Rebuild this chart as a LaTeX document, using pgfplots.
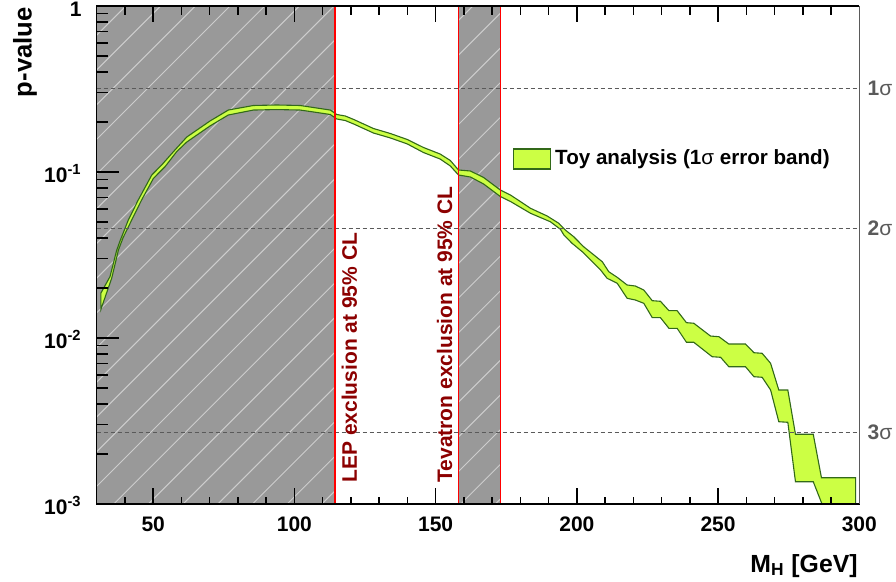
\documentclass[border=0pt]{standalone}
\usepackage{pgfplots}
\pgfplotsset{compat=1.18}
\usepackage{fontspec}
\setmainfont{Liberation Sans}
\definecolor{bandfill}{RGB}{204,255,68}
\definecolor{bandedge}{RGB}{50,105,25}
\definecolor{hatchgray}{RGB}{153,153,153}
\definecolor{hatchline}{RGB}{205,205,205}
\definecolor{exclred}{RGB}{140,0,0}
\definecolor{sigmagray}{RGB}{90,90,90}
\begin{document}
\begin{tikzpicture}
\path[use as bounding box] (0,0) rectangle (448pt,291pt);
\begin{axis}[
  name=ax,
  at={(48.35pt,39pt)}, anchor=south west,
  scale only axis, width=381.3pt, height=249pt,
  xmin=30, xmax=300, ymin=1e-3, ymax=1,
  ymode=log,
  clip=false,
  unbounded coords=jump,
  xtick={50,100,150,200,250,300},
  ytick={0.001,0.01,0.1,1},
  yticklabels={10\textsuperscript{-3},10\textsuperscript{-2},10\textsuperscript{-1},1},
  tick style={draw=none},
  ticklabel style={font=\bfseries\fontsize{10.5}{12}\selectfont},
  /pgf/number format/assume math mode=true,
  xticklabel style={yshift=-3pt},
  yticklabel style={anchor=base east, xshift=-4pt, yshift=-5.2pt},
  legend style={draw=none, fill=none, at={(rel axis cs:0.5455,0.6928)}, anchor=west,
    inner sep=0pt, font=\bfseries\fontsize{10.3}{12}\selectfont},
  legend cell align=left,
  legend image code/.code={\draw[#1] (0pt,-5pt) rectangle (18.5pt,5pt);},
]
% exclusion regions
\addplot[draw=none, fill=hatchgray, forget plot]
  coordinates {(30,0.001)(114.4,0.001)(114.4,1)(30,1)};
\addplot[draw=none, fill=hatchgray, forget plot]
  coordinates {(158,0.001)(173,0.001)(173,1)(158,1)};
\begin{scope}
\clip (axis cs:30,0.001) rectangle (axis cs:114.4,1);
\pgfplotsinvokeforeach{-0.6602,-0.6147,...,0.36}{\draw[hatchline, line width=0.5pt] (rel axis cs:#1,0) -- ++(249pt,249pt);}
\end{scope}
\begin{scope}
\clip (axis cs:158,0.001) rectangle (axis cs:173,1);
\pgfplotsinvokeforeach{-0.6602,-0.6147,...,0.56}{\draw[hatchline, line width=0.5pt] (rel axis cs:#1,0) -- ++(249pt,249pt);}
\end{scope}
% toy band
\addplot[fill=bandfill, draw=bandedge, line width=0.55pt] coordinates {
(31.5,0.01867)(34.7,0.02340)(37.1,0.03389)(38.3,0.03861)(41.2,0.05139)(44.7,0.06781)(49.5,0.09592)(53.0,0.1102)(57.7,0.1357)(61.9,0.1625)(70.1,0.2028)(76.6,0.2362)(85.5,0.2516)(93.8,0.2533)(102,0.2516)(108,0.2428)(112.7,0.2362)(115,0.2220)(118,0.2175)(121,0.2072)(128,0.1828)(134,0.1705)(140,0.1569)(145.7,0.1405)(151.6,0.1283)(155.2,0.1173)(158.1,0.1028)(162.3,0.1014)(167,0.09267)(172.9,0.07790)(176.5,0.07268)(183.6,0.06044)(189.5,0.05430)(193.6,0.04909)(195.9,0.04473)(198.9,0.04075)(202.4,0.03548)(209,0.02882)(211.3,0.02508)(214.3,0.02320)(217.8,0.02086)(220.7,0.02057)(223.7,0.01946)(226.7,0.01678)(229.6,0.01664)(232.6,0.01461)(235.5,0.01461)(238.8,0.01237)(241.4,0.01227)(247.3,0.01028)(250.3,0.01018)(253.8,0.009201)(259.7,0.009201)(262.7,0.008154)(265.6,0.008087)(268.6,0.007039)(271.5,0.004861)(274.7,0.004861)(277.4,0.002630)(283.7,0.002630)(286.6,0.001440)(298.7,0.001440)
(298.7,0.001)(286.8,0.001)(283.7,0.001362)(277.4,0.001362)(274.7,0.003106)(271.5,0.003131)(268.6,0.004861)(265.6,0.005798)(262.7,0.005846)(259.7,0.006716)(253.8,0.006716)(250.9,0.007651)(247.9,0.007715)(241.4,0.009421)(238.8,0.009421)(235.5,0.01144)(232.6,0.01144)(229.6,0.01326)(226.7,0.01326)(223.7,0.01618)(220.7,0.01694)(217.8,0.01735)(214.3,0.02136)(210.7,0.02289)(208.4,0.02569)(201.9,0.03311)(198.3,0.03720)(195.4,0.04173)(194.2,0.04516)(190.6,0.05017)(183.6,0.05639)(176.5,0.06643)(172.9,0.07119)(167,0.08467)(162.3,0.09330)(158.1,0.09592)(155.2,0.1087)(151.6,0.1197)(145.7,0.1310)(140,0.1475)(134,0.1603)(128,0.1717)(121,0.1946)(118,0.2042)(115,0.2086)(112.7,0.2220)(108,0.2283)(102,0.2362)(93.8,0.2378)(85.5,0.2362)(76.6,0.2205)(70.1,0.1893)(61.9,0.1516)(58.3,0.1325)(54.2,0.1076)(50.1,0.09162)(45.9,0.06781)(42.4,0.05139)(39.4,0.04042)(37.7,0.03389)(35.3,0.02289)(31.5,0.01489)(31.5,0.01867)
};
\addlegendentry{Toy analysis (1{\mdseries σ} error band)}
% sigma lines
\addplot[sigmagray, dash pattern=on 2pt off 1.5pt, line width=0.5pt, forget plot] coordinates {(30,0.3173)(300,0.3173)};
\addplot[sigmagray, dash pattern=on 2pt off 1.5pt, line width=0.5pt, forget plot] coordinates {(30,0.0455)(300,0.0455)};
\addplot[sigmagray, dash pattern=on 2pt off 1.5pt, line width=0.5pt, forget plot] coordinates {(30,0.0027)(300,0.0027)};
% exclusion boundaries
\addplot[red, line width=0.6pt, forget plot] coordinates {(114.4,0.001)(114.4,1)};
\addplot[red, line width=0.6pt, forget plot] coordinates {(158,0.001)(158,1)};
\addplot[red, line width=0.6pt, forget plot] coordinates {(173,0.001)(173,1)};
% tick marks (bottom minor, bottom major, top minor, top major)
\addplot[black, line width=0.7pt, forget plot] coordinates {
(40,0.001)(40,0.0011051)(40,nan)(60,0.001)(60,0.0011051)(60,nan)(70,0.001)(70,0.0011051)(70,nan)(80,0.001)(80,0.0011051)(80,nan)(90,0.001)(90,0.0011051)(90,nan)
(110,0.001)(110,0.0011051)(110,nan)(120,0.001)(120,0.0011051)(120,nan)(130,0.001)(130,0.0011051)(130,nan)(140,0.001)(140,0.0011051)(140,nan)
(160,0.001)(160,0.0011051)(160,nan)(170,0.001)(170,0.0011051)(170,nan)(180,0.001)(180,0.0011051)(180,nan)(190,0.001)(190,0.0011051)(190,nan)
(210,0.001)(210,0.0011051)(210,nan)(220,0.001)(220,0.0011051)(220,nan)(230,0.001)(230,0.0011051)(230,nan)(240,0.001)(240,0.0011051)(240,nan)
(260,0.001)(260,0.0011051)(260,nan)(270,0.001)(270,0.0011051)(270,nan)(280,0.001)(280,0.0011051)(280,nan)(290,0.001)(290,0.0011051)};
\addplot[black, line width=0.7pt, forget plot] coordinates {
(50,0.001)(50,0.0012417)(50,nan)(100,0.001)(100,0.0012417)(100,nan)(150,0.001)(150,0.0012417)(150,nan)(200,0.001)(200,0.0012417)(200,nan)(250,0.001)(250,0.0012417)};
\addplot[black, line width=0.7pt, forget plot] coordinates {
(40,1)(40,0.8826)(40,nan)(60,1)(60,0.8826)(60,nan)(70,1)(70,0.8826)(70,nan)(80,1)(80,0.8826)(80,nan)(90,1)(90,0.8826)(90,nan)
(110,1)(110,0.8826)(110,nan)(120,1)(120,0.8826)(120,nan)(130,1)(130,0.8826)(130,nan)(140,1)(140,0.8826)(140,nan)
(160,1)(160,0.8826)(160,nan)(170,1)(170,0.8826)(170,nan)(180,1)(180,0.8826)(180,nan)(190,1)(190,0.8826)(190,nan)
(210,1)(210,0.8826)(210,nan)(220,1)(220,0.8826)(220,nan)(230,1)(230,0.8826)(230,nan)(240,1)(240,0.8826)(240,nan)
(260,1)(260,0.8826)(260,nan)(270,1)(270,0.8826)(270,nan)(280,1)(280,0.8826)(280,nan)(290,1)(290,0.8826)};
\addplot[black, line width=0.7pt, forget plot] coordinates {
(50,1)(50,0.8009)(50,nan)(100,1)(100,0.8009)(100,nan)(150,1)(150,0.8009)(150,nan)(200,1)(200,0.8009)(200,nan)(250,1)(250,0.8009)};
% y tick marks (minor, major)
\addplot[black, line width=0.7pt, forget plot] coordinates {
(30,0.002)(33.965,0.002)(nan,0.002)(30,0.003)(33.965,0.003)(nan,0.003)(30,0.004)(33.965,0.004)(nan,0.004)(30,0.005)(33.965,0.005)(nan,0.005)(30,0.006)(33.965,0.006)(nan,0.006)(30,0.007)(33.965,0.007)(nan,0.007)(30,0.008)(33.965,0.008)(nan,0.008)(30,0.009)(33.965,0.009)(nan,0.009)
(30,0.02)(33.965,0.02)(nan,0.02)(30,0.03)(33.965,0.03)(nan,0.03)(30,0.04)(33.965,0.04)(nan,0.04)(30,0.05)(33.965,0.05)(nan,0.05)(30,0.06)(33.965,0.06)(nan,0.06)(30,0.07)(33.965,0.07)(nan,0.07)(30,0.08)(33.965,0.08)(nan,0.08)(30,0.09)(33.965,0.09)(nan,0.09)
(30,0.2)(33.965,0.2)(nan,0.2)(30,0.3)(33.965,0.3)(nan,0.3)(30,0.4)(33.965,0.4)(nan,0.4)(30,0.5)(33.965,0.5)(nan,0.5)(30,0.6)(33.965,0.6)(nan,0.6)(30,0.7)(33.965,0.7)(nan,0.7)(30,0.8)(33.965,0.8)(nan,0.8)(30,0.9)(33.965,0.9)};
\addplot[black, line width=0.7pt, forget plot] coordinates {
(30,0.01)(37.789,0.01)(nan,0.01)(30,0.1)(37.789,0.1)};
% frame
\addplot[black, line width=0.75pt, forget plot] coordinates {(300,0.001)(30,0.001)(30,1)(300,1)};
\addplot[sigmagray, line width=0.75pt, forget plot] coordinates {(300,0.001)(300,1)};
% texts
\node[rotate=90, anchor=base west, text=exclred, font=\bfseries\fontsize{10.5}{12}\selectfont, inner sep=0pt] at (axis cs:122.1,0.001338) {LEP exclusion at 95\% CL};
\node[rotate=90, anchor=base west, text=exclred, font=\bfseries\fontsize{10.5}{12}\selectfont, inner sep=0pt] at (axis cs:155.8,0.001338) {Tevatron exclusion at 95\% CL};
\node[anchor=west, inner sep=0pt, xshift=4pt, text=sigmagray, font=\fontsize{10.5}{12}\selectfont] at (axis cs:300,0.3173) {\bfseries 1{\mdseries σ}};
\node[anchor=west, inner sep=0pt, xshift=4pt, text=sigmagray, font=\fontsize{10.5}{12}\selectfont] at (axis cs:300,0.0455) {\bfseries 2{\mdseries σ}};
\node[anchor=west, inner sep=0pt, xshift=4pt, text=sigmagray, font=\fontsize{10.5}{12}\selectfont] at (axis cs:300,0.0027) {\bfseries 3{\mdseries σ}};
\end{axis}
\node[rotate=90, anchor=base east, font=\bfseries\fontsize{12.8}{15}\selectfont, inner sep=0pt] at (15.8pt,287.5pt) {p-value};
\node[anchor=base east, font=\bfseries\fontsize{12.4}{14}\selectfont, inner sep=0pt] at (429pt,4.85pt) {M\textsubscript{H} [GeV]};
\end{tikzpicture}
\end{document}
